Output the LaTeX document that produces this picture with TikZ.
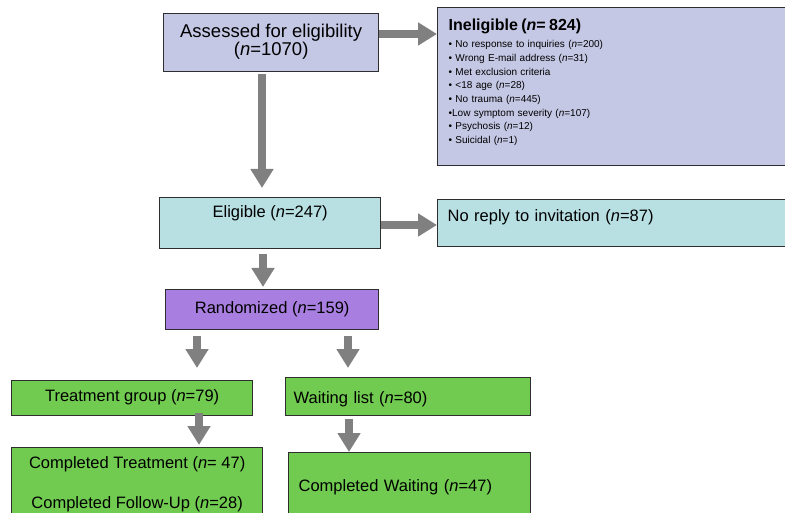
\documentclass[tikz,border=0pt]{standalone}
\usepackage{fontspec}
\setmainfont{Liberation Sans}
\usetikzlibrary{arrows.meta, calc}
\definecolor{assessbg}{HTML}{C5C8E5}
\definecolor{eligbg}{HTML}{B8E0E3}
\definecolor{randbg}{HTML}{A87FE0}
\definecolor{groupbg}{HTML}{70CB50}
\definecolor{boxline}{HTML}{2E2E2E}
\definecolor{flowgray}{HTML}{808080}

\begin{document}
\begin{tikzpicture}[
    x=1pt, y=-1pt,
    stage/.style={
        draw=boxline, fill=#1, line width=1.3pt, anchor=north west,
        inner sep=0pt, align=center, font=\fontsize{16.5}{20}\selectfont
    },
    leftstage/.style={
        stage=#1, align=left, inner xsep=10pt
    },
    flow/.style={
        draw=flowgray, line width=8pt, -{Triangle[width=22pt, length=19pt]}
    }
]

% Page frame: 785 x 513, boxes on the right and bottom run off the edge
\path[use as bounding box] (0,0) rectangle (785,513);
\clip (0,0) rectangle (785,513);
\fill[white] (0,0) rectangle (785,513);

% -- Screening --
% (centred two-line text: text height runs down to the last baseline)
\node[stage=assessbg, minimum width=215pt, text height=42pt, text depth=16pt,
      font=\fontsize{18.5}{18.5}\selectfont] (assessed) at (163,13)
    {Assessed for eligibility\\(\textit{n}=1070)};

\node[leftstage=assessbg, inner xsep=11pt, text width=341pt, text height=23pt,
      text depth=135pt, font=\fontsize{10}{13.7}\selectfont] (inelig) at (437,7) {
    {\fontsize{16}{16}\selectfont\bfseries Ineligible (\textit{n}= 824)}\\[3.3pt]
    • No response to inquiries (\textit{n}=200)\\
    • Wrong E-mail address (\textit{n}=31)\\
    • Met exclusion criteria\\
    • <18 age (\textit{n}=28)\\
    • No trauma (\textit{n}=445)\\
    •Low symptom severity (\textit{n}=107)\\
    • Psychosis (\textit{n}=12)\\
    • Suicidal (\textit{n}=1)};

% -- Eligibility --
\node[stage=eligbg, minimum width=221pt, text height=20pt, text depth=31pt]
    (eligible) at (159,197) {Eligible (\textit{n}=247)};
\node[leftstage=eligbg, text width=343pt, text height=22pt, text depth=25pt]
    (noreply) at (437,199) {No reply to invitation (\textit{n}=87)};

% -- Randomisation --
\node[stage=randbg, minimum width=213pt, text height=24pt, text depth=16pt]
    (random) at (165,289) {Randomized (\textit{n}=159)};

% -- Groups --
\node[stage=groupbg, minimum width=241pt, text height=20.7pt, text depth=14.3pt]
    (treat) at (11,380) {Treatment group (\textit{n}=79)};
\node[leftstage=groupbg, inner xsep=8pt, text width=229pt, text height=26pt, text depth=12pt]
    (waitlist) at (285,377) {Waiting list (\textit{n}=80)};

% -- Completers (cut off at the bottom edge) --
\node[stage=groupbg, minimum width=251pt, text height=61pt, text depth=40pt]
    (donetreat) at (11,447)
    {Completed Treatment (\textit{n}= 47)\\[20pt]Completed Follow-Up (\textit{n}=28)};
\node[leftstage=groupbg, text width=222pt, text height=39pt, text depth=60pt]
    (donewait) at (288,452) {Completed Waiting (\textit{n}=47)};

% Block arrows
\draw[flow] (assessed.east |- 0,34) -- (inelig.west |- 0,34);
\draw[flow, shorten <=2pt, shorten >=9pt] (assessed.south -| 262,0) -- (eligible.north -| 262,0);
\draw[flow] (eligible.east |- 0,225) -- (noreply.west |- 0,225);
\draw[flow, shorten <=5pt, shorten >=2pt] (eligible.south -| 263,0) -- (random.north -| 263,0);
\draw[flow, shorten <=6pt, shorten >=12pt] (random.south -| 197,0) -- (treat.north -| 197,0);
\draw[flow, shorten <=6pt, shorten >=9pt] (random.south -| 348,0) -- (waitlist.north -| 348,0);
\draw[flow, shorten <=-3pt, shorten >=2pt] (treat.south -| 199,0) -- (donetreat.north -| 199,0);
\draw[flow, shorten <=3pt] (waitlist.south -| 349,0) -- (donewait.north -| 349,0);

\end{tikzpicture}
\end{document}
